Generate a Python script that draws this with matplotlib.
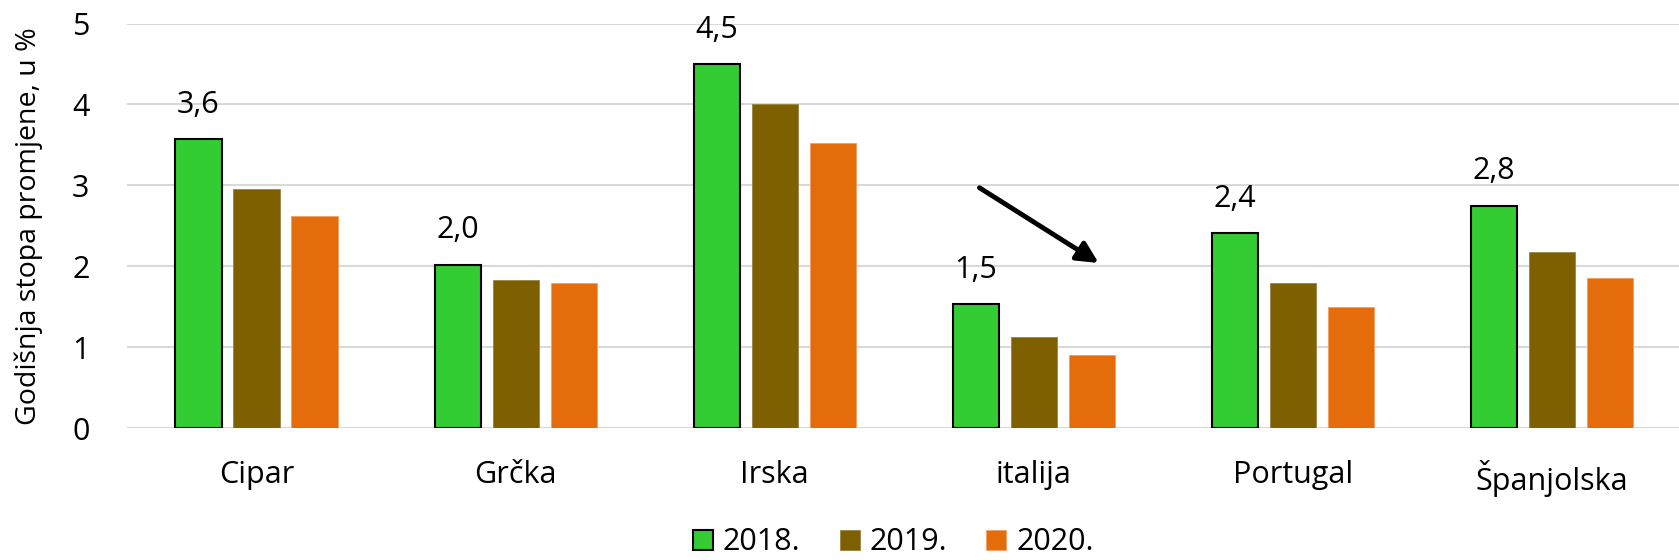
import matplotlib
matplotlib.use("Agg")
import matplotlib.pyplot as plt
import numpy as np

plt.rcParams['font.family'] = ['Open Sans', 'DejaVu Sans']

countries = ['Cipar', 'Grčka', 'Irska', 'italija', 'Portugal', 'Španjolska']
years = ['2018.', '2019.', '2020.']
v2018 = [3.57, 2.02, 4.50, 1.53, 2.41, 2.75]
v2019 = [2.95, 1.83, 4.01, 1.12, 1.79, 2.18]
v2020 = [2.62, 1.79, 3.52, 0.90, 1.49, 1.85]
labels2018 = ['3,6', '2,0', '4,5', '1,5', '2,4', '2,8']

colors = ['#33CC33', '#7F6000', '#E46C0A']
edges = ['black', '#9a8440', '#f0a060']

fig = plt.figure(figsize=(16.79, 5.60), dpi=100)
ax = fig.add_axes([0.0756, 0.2357, 0.926, 0.7223])

x = np.arange(len(countries))
w = 0.178
step = 0.224
series = [v2018, v2019, v2020]
for i, vals in enumerate(series):
    lw = 1.5 if i == 0 else 0.6
    bars = ax.bar(x + (i - 1) * step, vals, width=w, color=colors[i],
                  edgecolor=edges[i], linewidth=lw, label=years[i], zorder=3)
    if i == 0:
        for b, t in zip(bars, labels2018):
            ax.annotate(t, (b.get_x() + b.get_width() / 2, b.get_height()),
                        xytext=(0, 14), textcoords='offset points',
                        ha='center', va='bottom', fontsize=22)

# arrow showing the drop
ax.annotate('', xy=(3.25, 2.04), xytext=(2.79, 2.97),
            arrowprops=dict(arrowstyle='-|>', color='black', lw=3.5,
                            mutation_scale=32, shrinkA=0, shrinkB=0))

ax.set_xlim(-0.5, 5.5)
ax.set_ylim(0, 5)
ax.set_yticks(range(6))
ax.set_xticks(x)
ax.set_xticklabels(countries, fontsize=22)
ax.tick_params(axis='y', labelsize=22, length=0, pad=27)
ax.tick_params(axis='x', length=0, pad=23)
ax.grid(axis='y', color='#d9d9d9', linewidth=1.5, zorder=0)
for s in ax.spines.values():
    s.set_visible(False)
ax.set_ylabel('Godišnja stopa promjene, u %', fontsize=20.5)
ax.yaxis.set_label_coords(-0.054, 0.5)

ax.legend(loc='center', bbox_to_anchor=(0.493, -0.283), ncol=3, frameon=False,
          fontsize=22, handlelength=0.65, handleheight=0.65,
          handletextpad=0.33, columnspacing=1.28)

fig.savefig('out.png', dpi=100)
